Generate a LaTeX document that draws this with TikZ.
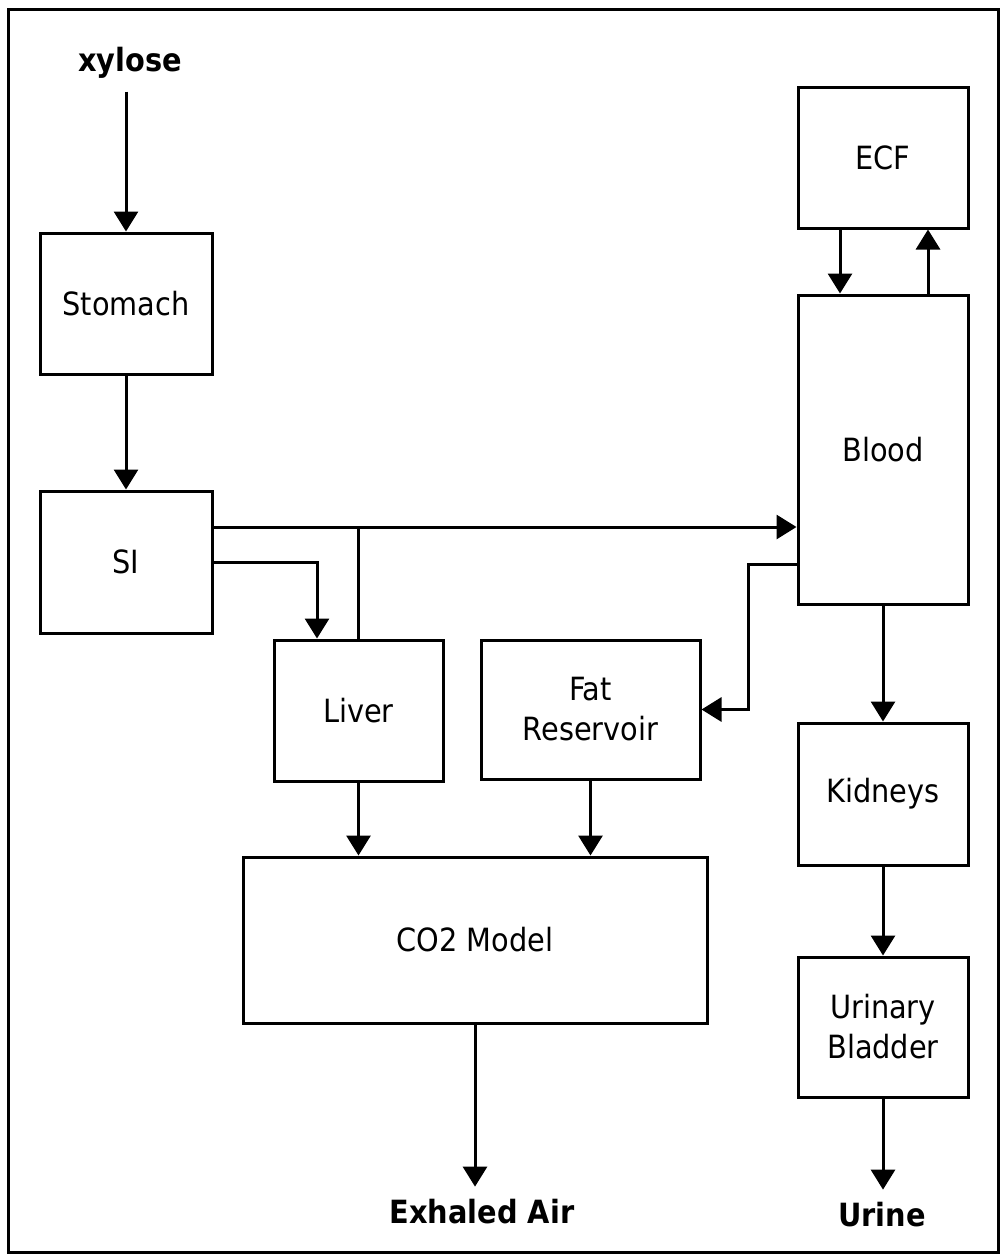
\documentclass[tikz,border=0pt]{standalone}
\usepackage{fontspec}
\setmainfont{DejaVu Sans Condensed}
\usetikzlibrary{arrows.meta}

\tikzset{
  box/.style={draw, line width=3pt, align=center, inner sep=0pt,
    font=\fontsize{32}{40}\selectfont},
  flow/.style={line width=3pt, -{Triangle[length=20pt,width=24pt]}},
  link/.style={line width=3pt},
  ext/.style={font=\bfseries\fontsize{32}{38}\selectfont, inner sep=0pt, outer sep=13pt},
}

\begin{document}
\begin{tikzpicture}[x=1pt,y=-1pt]
  \useasboundingbox (0,0) rectangle (1002,1255);
  \draw[line width=3pt] (8,10) rectangle (998,1252);

  % compartments
  \node[box, minimum width=172pt, minimum height=141pt] (stomach) at (126,303.5) {Stomach};
  \node[box, minimum width=172pt, minimum height=142pt] (si) at (126,562) {SI};
  \node[box, minimum width=169pt, minimum height=141pt] (liver) at (358.5,710.5) {Liver};
  \node[box, minimum width=219pt, minimum height=139pt] (fat) at (590.5,709.5) {Fat\\Reservoir};
  \node[box, minimum width=464pt, minimum height=166pt] (co2) at (475,940) {CO2 Model};
  \node[box, minimum width=170pt, minimum height=141pt] (ecf) at (883,157.5) {ECF};
  \node[box, minimum width=170pt, minimum height=309pt] (blood) at (883,449.5) {Blood};
  \node[box, minimum width=170pt, minimum height=142pt] (kidneys) at (883,794) {Kidneys};
  \node[box, minimum width=170pt, minimum height=140pt] (bladder) at (883,1027) {Urinary\\Bladder};

  % inputs and outputs
  \node[ext] (xylose) at (130,63) {xylose};
  \node[ext] (exhaled) at (482,1212) {Exhaled Air};
  \node[ext] (urine) at (882,1215) {Urine};

  \draw[flow] (xylose.south -| stomach.north) -- (stomach.north);
  \draw[flow] (stomach) -- (si);

  \coordinate (sitop) at ([yshift=35pt]si.east);
  \draw[flow] (sitop) -- (sitop -| blood.west);
  \draw[link] (liver.north) -- (liver.north |- sitop);
  \draw[flow] (si.east) -| ([xshift=-41.5pt]liver.north);

  \draw[flow] ([xshift=-43pt]ecf.south) -- ([xshift=-43pt]blood.north);
  \draw[flow] ([xshift=45pt]blood.north) -- ([xshift=45pt]ecf.south);
  \draw[flow] ([yshift=-114.5pt]blood.west) -- ++(-48pt,0) |- (fat.east);

  \draw[flow] (blood) -- (kidneys);
  \draw[flow] (kidneys) -- (bladder);
  \draw[flow] (bladder.south) -- (bladder.south |- urine.north);

  \draw[flow] (liver.south) -- (liver.south |- co2.north);
  \draw[flow] (fat.south) -- (fat.south |- co2.north);
  \draw[flow] (co2.south) -- (co2.south |- exhaled.north);
\end{tikzpicture}
\end{document}
